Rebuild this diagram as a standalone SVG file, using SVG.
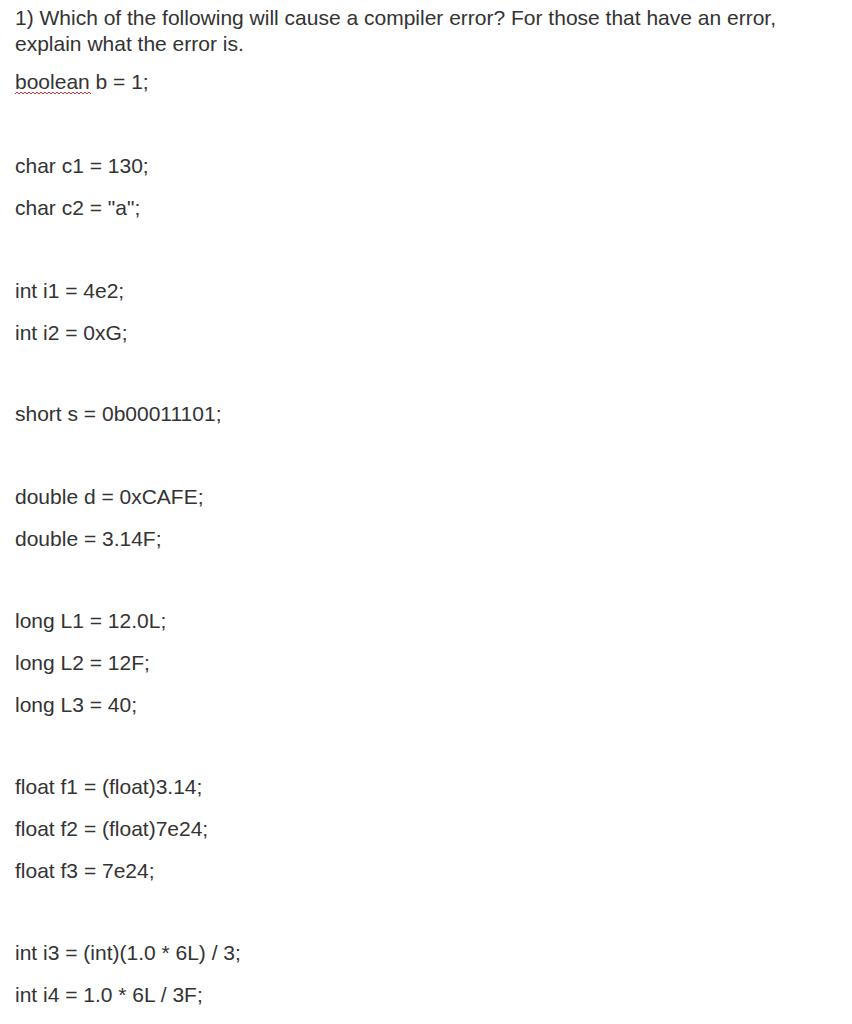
<svg xmlns="http://www.w3.org/2000/svg" width="852" height="1024" viewBox="0 0 852 1024">
<style>text{font-family:"Liberation Sans",Arial,sans-serif;font-size:21px;fill:#333}</style>
<rect width="852" height="1024" fill="#fff"/>
<text x="15" y="25">1) Which of the following will cause a compiler error? For those that have an error,</text>
<text x="15" y="51">explain what the error is.</text>
<text x="15" y="89">boolean b = 1;</text>
<path d="M15,94 l2,-2 l2,2 l2,-2 l2,2 l2,-2 l2,2 l2,-2 l2,2 l2,-2 l2,2 l2,-2 l2,2 l2,-2 l2,2 l2,-2 l2,2 l2,-2 l2,2 l2,-2 l2,2 l2,-2 l2,2 l2,-2 l2,2 l2,-2 l2,2 l2,-2 l2,2 l2,-2 l2,2 l2,-2 l2,2 l2,-2 l2,2 l2,-2 l2,2 l2,-2 l2,2" fill="none" stroke="#d33" stroke-width="1"/>
<text x="15" y="173">char c1 = 130;</text>
<text x="15" y="215">char c2 = "a";</text>
<text x="15" y="298">int i1 = 4e2;</text>
<text x="15" y="340">int i2 = 0xG;</text>
<text x="15" y="421">short s = 0b00011101;</text>
<text x="15" y="504">double d = 0xCAFE;</text>
<text x="15" y="546">double = 3.14F;</text>
<text x="15" y="628">long L1 = 12.0L;</text>
<text x="15" y="670">long L2 = 12F;</text>
<text x="15" y="712">long L3 = 40;</text>
<text x="15" y="794">float f1 = (float)3.14;</text>
<text x="15" y="836">float f2 = (float)7e24;</text>
<text x="15" y="878">float f3 = 7e24;</text>
<text x="15" y="960">int i3 = (int)(1.0 * 6L) / 3;</text>
<text x="15" y="1002">int i4 = 1.0 * 6L / 3F;</text>
</svg>
